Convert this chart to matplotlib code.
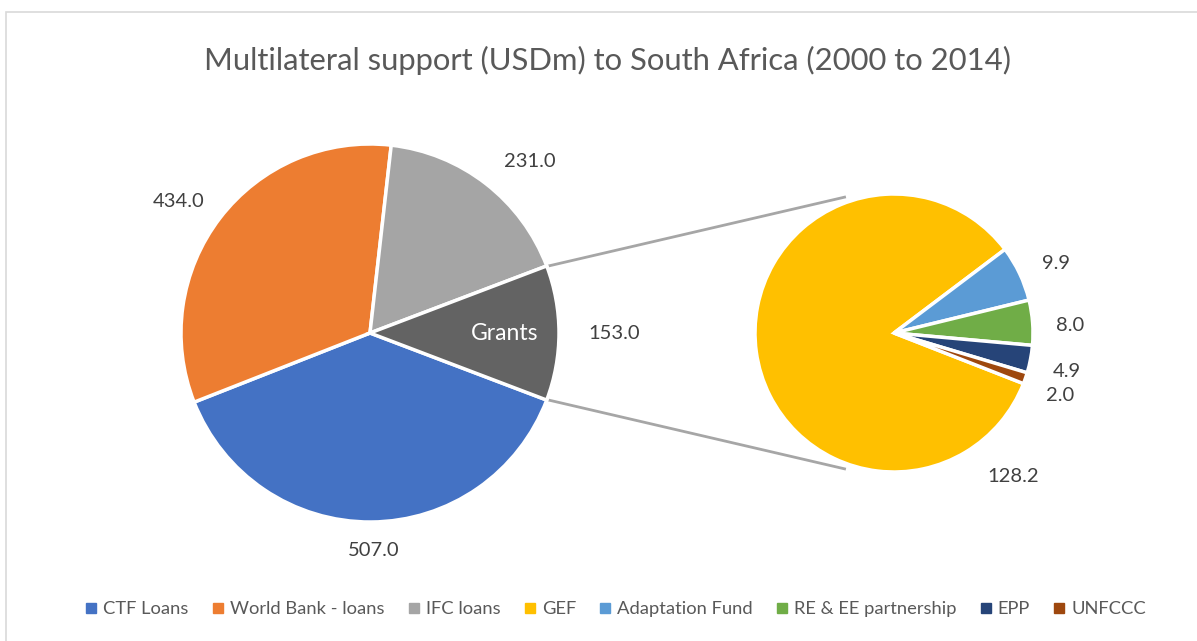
import numpy as np
import matplotlib
matplotlib.use("Agg")
import matplotlib.pyplot as plt
from matplotlib.patches import Rectangle
from matplotlib.lines import Line2D

plt.rcParams['font.family'] = ['Lato', 'DejaVu Sans']

# ---- data ----
main_labels = ["CTF Loans", "World Bank - loans", "IFC loans", "Grants"]
main_values = [507.0, 434.0, 231.0, 153.0]
sub_labels = ["GEF", "Adaptation Fund", "RE & EE partnership", "EPP", "UNFCCC"]
sub_values = [128.2, 9.9, 8.0, 4.9, 2.0]
title = "Multilateral support (USDm) to South Africa (2000 to 2014)"

main_colors = ["#4472C4", "#ED7D31", "#A5A5A5", "#636363"]
sub_colors = ["#FFC000", "#5B9BD5", "#70AD47", "#264478", "#9E480E"]

W, H = 1197, 641
fig = plt.figure(figsize=(W / 100, H / 100), dpi=100)
ax = fig.add_axes([0, 0, 1, 1])

def py(y):
    return H - y

# border
ax.add_patch(Rectangle((6, py(12) - 700), 1300, 700, fill=False,
                       edgecolor="#D9D9D9", lw=1.2, zorder=0))

c1 = (370, py(333)); r1 = 189
c2 = (894, py(333)); r2 = 139

grants_angle = 360 * main_values[-1] / sum(main_values)
wedges1, _ = ax.pie(main_values, colors=main_colors, center=c1, radius=r1,
                    startangle=-grants_angle / 2, counterclock=False,
                    wedgeprops=dict(edgecolor="white", linewidth=2.5),
                    frame=True)

gef_angle = 360 * sub_values[0] / sum(sub_values)
top_small = 37.0
start2 = top_small + gef_angle
wedges2, _ = ax.pie(sub_values, colors=sub_colors, center=c2, radius=r2,
                    startangle=start2, counterclock=False,
                    wedgeprops=dict(edgecolor="white", linewidth=2.5),
                    frame=True)
ax.set_xlim(0, W)
ax.set_ylim(0, H)
ax.set_aspect('equal')
ax.axis('off')

# connector lines
for sgn in (1, -1):
    a1 = np.deg2rad(sgn * grants_angle / 2)
    p1 = (c1[0] + r1 * np.cos(a1), c1[1] + r1 * np.sin(a1))
    a2 = np.deg2rad(sgn * 110)
    p2 = (c2[0] + 1.04 * r2 * np.cos(a2), c2[1] + 1.04 * r2 * np.sin(a2))
    ax.plot([p1[0] + 2, p2[0]], [p1[1], p2[1]], color="#A6A6A6", lw=2, zorder=0.5)

lab_color = "#404040"
fs_lab = 14.5

def mid(w):
    return 0.5 * (w.theta1 + w.theta2)

# main labels: (radial factor, angle offset)
main_lab_style = [(1.15, 0.75), (1.23, 3.0), (1.24, -5.3), (1.29, 0)]
for w, v, (k, da) in zip(wedges1, main_values, main_lab_style):
    a = np.deg2rad(mid(w) + da)
    ax.text(c1[0] + k * r1 * np.cos(a), c1[1] + k * r1 * np.sin(a),
            f"{v:.1f}", ha="center", va="center", color=lab_color, fontsize=fs_lab)
# Grants in-slice label
a = np.deg2rad(mid(wedges1[-1]))
ax.text(c1[0] + 0.71 * r1 * np.cos(a), c1[1] + 0.71 * r1 * np.sin(a),
        "Grants", ha="center", va="center", color="white", fontsize=16.5)

sub_lab_style = [(1.34, 122.0), (1.27, -2.15), (1.27, -1.8), (1.27, -1.55), (1.28, -1.55)]
for w, v, (k, da) in zip(wedges2, sub_values, sub_lab_style):
    a = np.deg2rad(mid(w) + da)
    ax.text(c2[0] + k * r2 * np.cos(a), c2[1] + k * r2 * np.sin(a),
            f"{v:.1f}", ha="center", va="center", color=lab_color, fontsize=fs_lab)

# title
ax.text(608, py(60), title, ha="center", va="center", color="#595959", fontsize=22.3)

# legend
handles = [Line2D([], [], marker='s', linestyle='none', markersize=6.5,
                  markerfacecolor=c, markeredgecolor=c)
           for c in main_colors[:3] + sub_colors]
labels = main_labels[:3] + sub_labels
leg = fig.legend(handles, labels, loc="center", bbox_to_anchor=(616 / W, 1 - 609 / H),
                 ncol=8, frameon=False, fontsize=13.2, handlelength=0.6,
                 handletextpad=0.35, columnspacing=1.3, labelcolor="#595959")

fig.savefig("out.png", dpi=100)
